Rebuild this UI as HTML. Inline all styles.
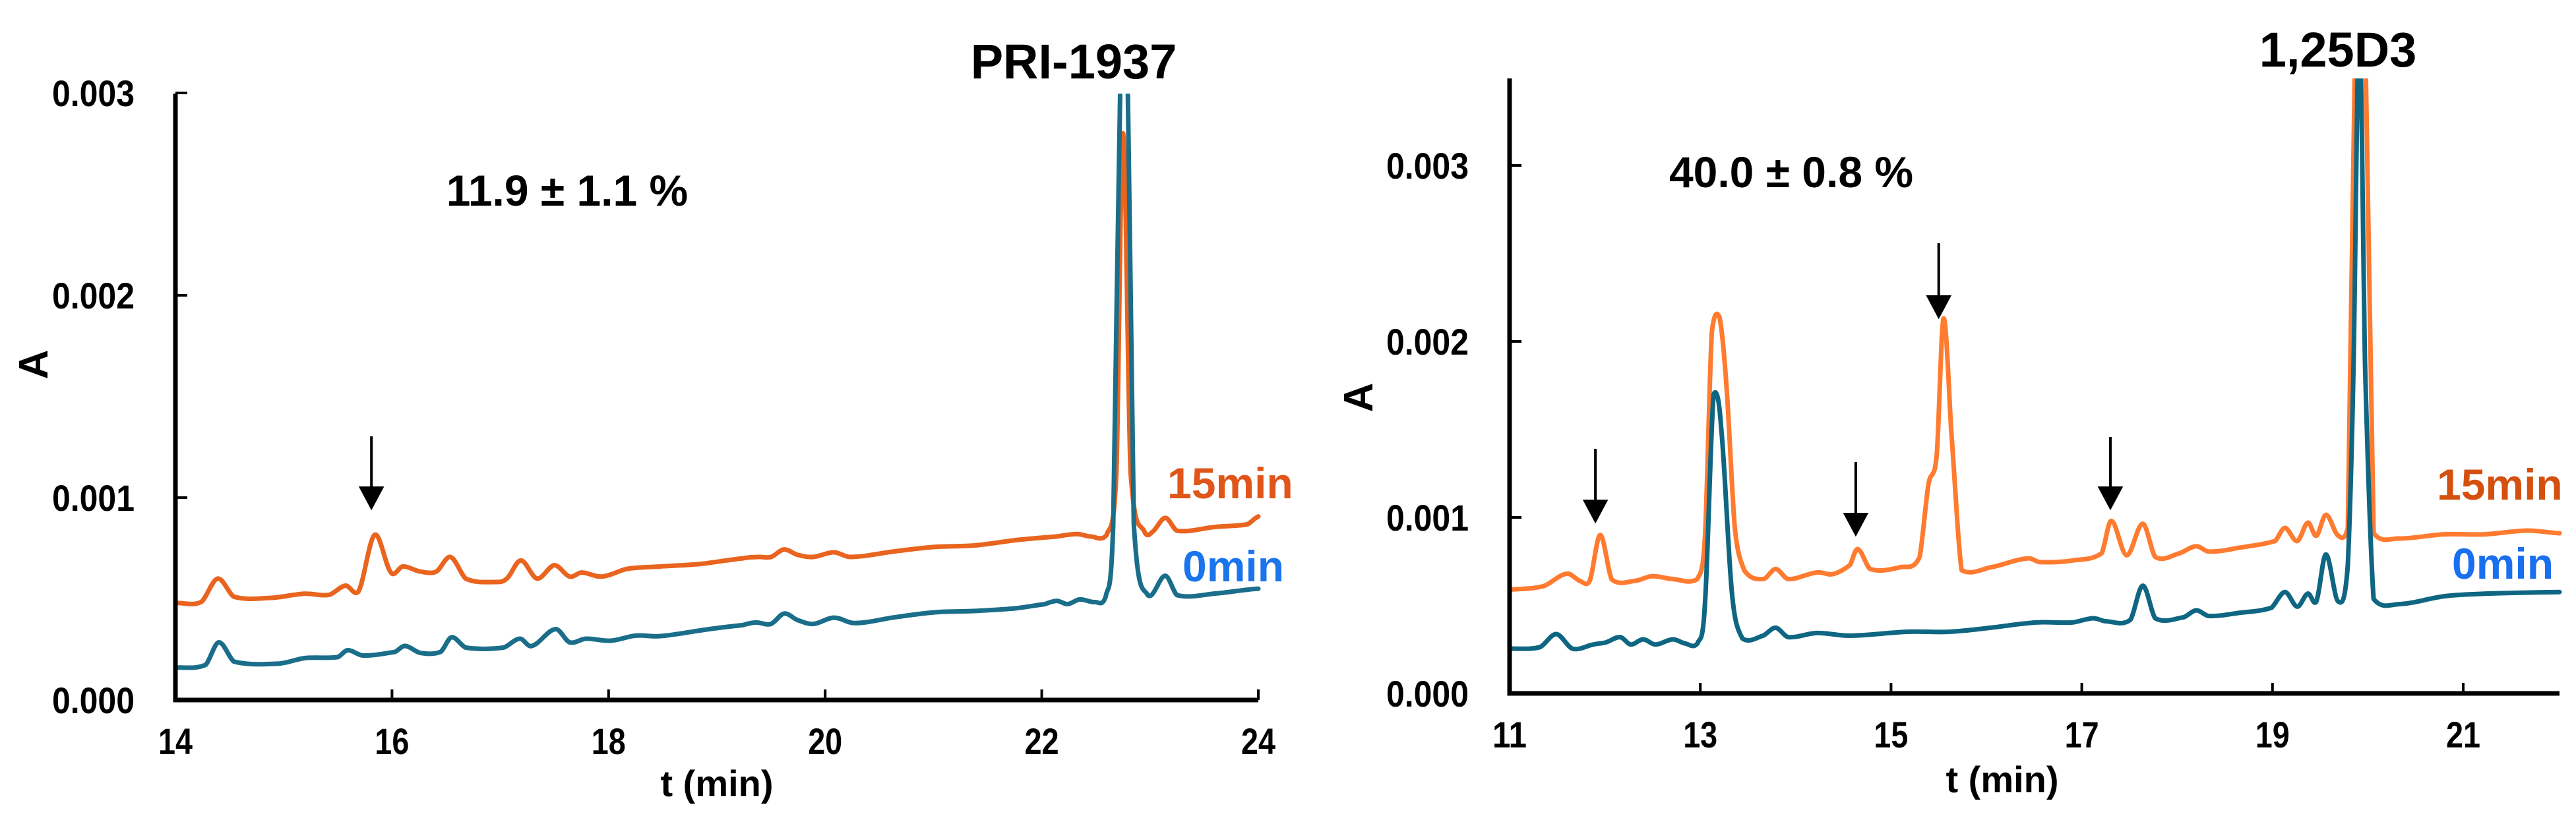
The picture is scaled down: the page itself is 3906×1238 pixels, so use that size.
<!DOCTYPE html>
<html><head><meta charset="utf-8">
<style>
html,body{margin:0;padding:0;background:#fff;}
svg{display:block;}
text{font-family:"Liberation Sans",Arial,sans-serif;font-weight:bold;}
.tick{font-family:"Liberation Sans Narrow","Liberation Sans",sans-serif;font-size:56px;}
</style></head>
<body>
<svg id="chart" width="3906" height="1238" viewBox="0 0 3906 1238" xmlns="http://www.w3.org/2000/svg">
<defs>
<clipPath id="clipL"><rect x="266" y="142" width="1650" height="930"/></clipPath>
<clipPath id="clipR"><rect x="2289" y="119" width="1600" height="940"/></clipPath>
</defs>
<g id="left"></g>
<g id="right"></g>
</svg>
<script>
// ---- Left panel data (t in min, A in units of 0.001) ----
const leftT15 = [14,14.24,14.39,14.54,14.89,15.19,15.42,15.57,15.69,15.84,15.99,16.1,16.26,16.41,16.54,16.68,16.95,17.06,17.19,17.34,17.5,17.64,17.75,17.94,18.17,18.48,18.86,19.24,19.39,19.5,19.62,19.74,19.89,20.08,20.23,20.62,21.0,21.38,21.76,22.14,22.33,22.45,22.6,22.69,22.75,22.82,22.95,23.02,23.14,23.25,23.6,23.9,24];
const leftA15 = [0.48,0.485,0.6,0.51,0.505,0.525,0.52,0.565,0.536,0.816,0.63,0.66,0.635,0.635,0.707,0.6,0.583,0.6,0.69,0.6,0.666,0.61,0.63,0.61,0.648,0.66,0.673,0.7,0.707,0.707,0.744,0.718,0.707,0.73,0.707,0.733,0.756,0.764,0.79,0.808,0.82,0.808,0.816,1.13,2.8,1.13,0.83,0.83,0.9,0.836,0.855,0.868,0.907];
const leftT0 = [14,14.28,14.4,14.54,14.96,15.19,15.5,15.59,15.73,16.03,16.12,16.26,16.45,16.55,16.68,17.03,17.18,17.29,17.51,17.64,17.79,18.02,18.25,18.48,18.86,19.24,19.36,19.5,19.62,19.74,19.89,20.08,20.27,20.62,21.0,21.38,21.76,22.03,22.14,22.24,22.35,22.49,22.59,22.66,22.73,22.79,22.85,22.98,23.14,23.25,23.6,24];
const leftA0 = [0.16,0.174,0.285,0.19,0.18,0.207,0.212,0.246,0.22,0.238,0.267,0.233,0.238,0.31,0.259,0.259,0.303,0.267,0.35,0.285,0.303,0.293,0.318,0.316,0.345,0.37,0.383,0.376,0.427,0.396,0.376,0.407,0.38,0.407,0.433,0.44,0.453,0.474,0.49,0.474,0.497,0.484,0.51,0.868,3.2,3.2,0.87,0.518,0.614,0.518,0.526,0.55];
const leftXTicks = [14,16,18,20,22,24];
const leftYTicks = [0,1,2,3];
const leftYLabels = ["0.000","0.001","0.002","0.003"];
const leftArrows = [15.81];

// ---- Right panel data ----
const rightT15 = [11,11.36,11.6,11.75,11.84,11.95,12.07,12.32,12.49,12.71,12.97,13.05,13.12,13.2,13.28,13.36,13.46,13.66,13.79,13.92,14.22,14.39,14.57,14.65,14.78,15.09,15.3,15.39,15.48,15.55,15.63,15.74,16.04,16.43,16.56,16.9,17.21,17.31,17.47,17.64,17.77,18.03,18.2,18.33,18.64,19.03,19.13,19.26,19.37,19.46,19.56,19.69,19.79,19.87,19.97,20.06,20.32,20.8,21.23,21.67,22.01];
const rightA15 = [0.59,0.61,0.68,0.636,0.64,0.9,0.648,0.64,0.666,0.65,0.65,0.9,2.05,2.14,1.7,0.95,0.7,0.65,0.707,0.65,0.687,0.678,0.73,0.82,0.707,0.716,0.776,1.18,1.36,2.13,1.5,0.7,0.716,0.767,0.746,0.755,0.797,0.98,0.785,0.964,0.776,0.797,0.836,0.806,0.827,0.866,0.94,0.866,0.97,0.896,1.015,0.896,0.94,3.8,3.8,0.91,0.88,0.904,0.904,0.925,0.91];
const rightT0 = [11,11.32,11.49,11.66,11.88,12.01,12.16,12.27,12.4,12.53,12.71,12.84,12.97,13.05,13.14,13.22,13.33,13.44,13.66,13.79,13.92,14.22,14.57,15.17,15.61,16.04,16.52,16.9,17.12,17.25,17.51,17.64,17.77,18.07,18.2,18.33,18.64,18.99,19.13,19.26,19.37,19.46,19.56,19.69,19.79,19.85,19.91,19.97,20.06,20.32,20.8,21.23,22.01];
const rightA0 = [0.254,0.263,0.337,0.254,0.278,0.29,0.32,0.278,0.307,0.278,0.307,0.284,0.284,0.52,1.7,1.5,0.58,0.313,0.328,0.373,0.32,0.343,0.328,0.35,0.35,0.373,0.403,0.403,0.427,0.41,0.418,0.612,0.427,0.433,0.472,0.44,0.457,0.487,0.576,0.493,0.567,0.522,0.79,0.522,0.73,1.87,3.8,1.87,0.537,0.507,0.552,0.567,0.576];
const rightXTicks = [11,13,15,17,19,21];
const rightYTicks = [0,1,2,3];
const rightYLabels = ["0.000","0.001","0.002","0.003"];
const rightArrows = [[11.9,681,790],[14.63,701,810],[15.5,369,480],[17.3,663,770]];

const NS = "http://www.w3.org/2000/svg";
function mk(tag, attrs, parent){ const e=document.createElementNS(NS,tag); for(const k in attrs) e.setAttribute(k,attrs[k]); parent.appendChild(e); return e; }

function smoothPath(P){
  // monotone-ish Catmull-Rom in x
  let d = `M${P[0][0].toFixed(1)},${P[0][1].toFixed(1)}`;
  for(let i=0;i<P.length-1;i++){
    const p0=P[Math.max(0,i-1)], p1=P[i], p2=P[i+1], p3=P[Math.min(P.length-1,i+2)];
    const k=0.18;
    let c1y=p1[1]+(p2[1]-p0[1])*k, c2y=p2[1]-(p3[1]-p1[1])*k;
    const lo=Math.min(p1[1],p2[1]), hi=Math.max(p1[1],p2[1]);
    c1y=Math.max(lo-8,Math.min(hi+8,c1y)); c2y=Math.max(lo-8,Math.min(hi+8,c2y));
    const c1x=p1[0]+(p2[0]-p1[0])/3, c2x=p2[0]-(p2[0]-p1[0])/3;
    d+=` C${c1x.toFixed(1)},${c1y.toFixed(1)} ${c2x.toFixed(1)},${c2y.toFixed(1)} ${p2[0].toFixed(1)},${p2[1].toFixed(1)}`;
  }
  return d;
}

function panel(g, cfg){
  const sx = t => cfg.x0 + (t - cfg.t0) * cfg.pxMin;
  const sy = a => cfg.y0 - a * cfg.pxUnit;
  [[cfg.t15,cfg.a15,cfg.c15,'trace-15min'],[cfg.tz,cfg.az,cfg.cz,'trace-0min']].forEach(s=>{
    const P = s[0].map((t,i)=>[sx(t),sy(s[1][i])]);
    const p = mk('path',{d:smoothPath(P),fill:'none',stroke:s[2],'stroke-width':7,'stroke-linejoin':'round','stroke-linecap':'round','clip-path':cfg.clip},g);
    
    
  });
  const ax = mk('path',{d:`M${cfg.x0},${cfg.yTop} V${cfg.y0} H${cfg.xEnd}`,fill:'none',stroke:'#000','stroke-width':7},g);
  
  
  cfg.xt.forEach(t=>{
    const l = mk('line',{x1:sx(t),x2:sx(t),y1:cfg.y0,y2:cfg.y0-16,stroke:'#000','stroke-width':4},g);
    
    
    const tx = mk('text',{x:sx(t),y:cfg.y0+82,'text-anchor':'middle',class:'tick',textLength:String(t).length*26,lengthAdjust:'spacingAndGlyphs'},g);
    tx.textContent = t;
    
    
  });
  cfg.yt.forEach((v,i)=>{
    const l = mk('line',{x1:cfg.x0,x2:cfg.x0+18,y1:sy(v),y2:sy(v),stroke:'#000','stroke-width':4},g);
    
    
    const tx = mk('text',{x:cfg.x0-62,y:sy(v)+20,'text-anchor':'end',class:'tick',textLength:125,lengthAdjust:'spacingAndGlyphs'},g);
    tx.textContent = cfg.yl[i];
    
    
  });
  cfg.arrows.forEach(a=>{
    const x = sx(a[0]);
    const ln = mk('path',{d:`M${x},${a[1]} V${a[2]-25} M${x-16},${a[2]-30} L${x+16},${a[2]-30} L${x},${a[2]} Z`,stroke:'#000','stroke-width':4,fill:'#000'},g);
    
    
  });
}

const L = document.getElementById('left'), R = document.getElementById('right');
panel(L,{x0:266,t0:14,pxMin:164.2,y0:1062,pxUnit:307,yTop:142,xEnd:1908,clip:'url(#clipL)',
  t15:leftT15,a15:leftA15,tz:leftT0,az:leftA0,c15:'#E9641F',cz:'#1A6E8A',
  xt:leftXTicks,yt:leftYTicks,yl:leftYLabels,arrows:leftArrows.map(t=>[t,662,770])});
panel(R,{x0:2289,t0:11,pxMin:144.6,y0:1052,pxUnit:267,yTop:119,xEnd:3881,clip:'url(#clipR)',
  t15:rightT15,a15:rightA15,tz:rightT0,az:rightA0,c15:'#FF7B30',cz:'#0F6682',
  xt:rightXTicks,yt:rightYTicks,yl:rightYLabels,arrows:rightArrows});

function txt(parent,name,str,attrs){ const t=mk('text',attrs,parent); t.textContent=str;   return t; }
txt(L,'compound-title','PRI-1937',{x:1628,y:119,'text-anchor':'middle','font-size':74});
txt(L,'percent-label','11.9 ± 1.1 %',{x:860,y:312,'text-anchor':'middle','font-size':66});
txt(L,'legend-15min','15min',{x:1770,y:756,'font-size':66,fill:'#E0561A'});
txt(L,'legend-0min','0min',{x:1793,y:882,'font-size':66,fill:'#1A74EC'});
txt(L,'y-axis-title','A',{x:0,y:0,'text-anchor':'middle','font-size':62,transform:'translate(72,553) rotate(-90)'});
txt(L,'x-axis-title','t (min)',{x:1087,y:1208,'text-anchor':'middle','font-size':58,class:'tick'});
txt(R,'compound-title','1,25D3',{x:3545,y:101,'text-anchor':'middle','font-size':74});
txt(R,'percent-label','40.0 ± 0.8 %',{x:2716,y:284,'text-anchor':'middle','font-size':66});
txt(R,'legend-15min','15min',{x:3695,y:758,'font-size':66,fill:'#D4500F'});
txt(R,'legend-0min','0min',{x:3718,y:878,'font-size':66,fill:'#1A6FF0'});
txt(R,'y-axis-title','A',{x:0,y:0,'text-anchor':'middle','font-size':62,transform:'translate(2081,603) rotate(-90)'});
txt(R,'x-axis-title','t (min)',{x:3036,y:1202,'text-anchor':'middle','font-size':58,class:'tick'});
</script>
</body></html>
